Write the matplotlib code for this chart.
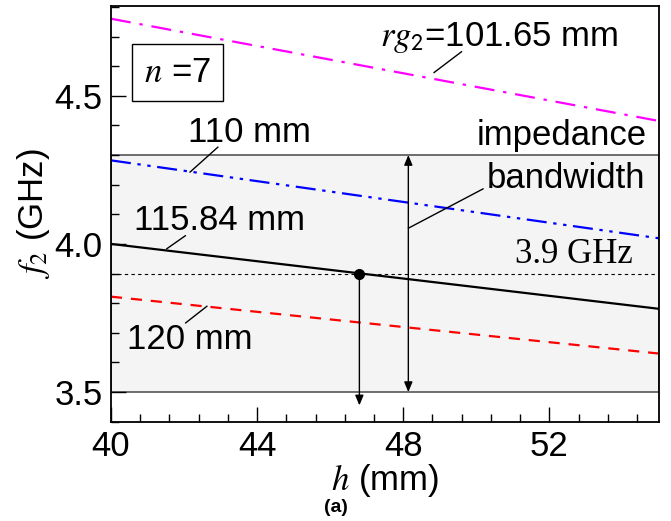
import matplotlib
matplotlib.use('Agg')
from matplotlib import pyplot as plt

# curves: resonant frequency f2 vs h for several rg2 values (linear, end points)
h = [40, 55]
f_101 = [4.76, 4.415]
f_110 = [4.282, 4.019]
f_115 = [4.0, 3.781]
f_120 = [3.822, 3.630]

band_lo, band_hi = 3.5, 4.3
f_target = 3.9
h_target = 46.8
h_band = 48.14

xticks = [40, 44, 48, 52]
yticks = [3.5, 4.0, 4.5]

plt.rcParams['font.family'] = ['Liberation Sans', 'DejaVu Sans']
plt.rcParams['mathtext.fontset'] = 'stix'

FS = 25


def leader(ax, p0, p1):
    ax.annotate('', xy=p1, xytext=p0,
                arrowprops=dict(arrowstyle='-', color='black', lw=1.0,
                                shrinkA=0, shrinkB=0))


def main():
    fig = plt.figure(figsize=(6.71, 5.21), dpi=100)
    ax = fig.add_axes([0.1654, 0.1906, 0.8166, 0.7979])

    ax.axhspan(band_lo, band_hi, facecolor='#f4f4f4', edgecolor='#555555', lw=1.2, zorder=0)
    ax.axhline(f_target, color='black', lw=0.8, ls=(0, (3, 3)), zorder=1)

    ax.plot(h, f_101, color='magenta', lw=1.6, ls=(0, (9, 4, 1.5, 4)))
    ax.plot(h, f_110, color='blue', lw=1.6, ls=(0, (9, 3, 1.5, 3, 1.5, 3)))
    ax.plot(h, f_115, color='black', lw=1.6, ls='-')
    ax.plot(h, f_120, color='red', lw=1.6, ls=(0, (5, 4)))

    ax.plot([h_target], [f_target], 'o', color='black', ms=7, zorder=5)
    ax.annotate('', xy=(h_target, 3.455), xytext=(h_target, f_target),
                arrowprops=dict(arrowstyle='-|>,head_length=0.6,head_width=0.25',
                                color='black', lw=1.0, shrinkA=0, shrinkB=0))
    ax.annotate('', xy=(h_band, band_lo), xytext=(h_band, band_hi),
                arrowprops=dict(arrowstyle='<|-|>,head_length=0.6,head_width=0.25',
                                color='black', lw=1.0, shrinkA=0, shrinkB=0))

    ax.text(47.36, 4.696, r'$rg_{\mathsf{2}}$=101.65 mm', fontsize=FS, va='center', ha='left')
    leader(ax, (49.6, 4.649), (48.84, 4.578))
    ax.text(43.8, 4.377, '110 mm', fontsize=FS, va='center', ha='center')
    leader(ax, (42.93, 4.327), (42.16, 4.242))
    ax.text(42.98, 4.079, '115.84 mm', fontsize=FS, va='center', ha='center')
    leader(ax, (42.04, 4.028), (41.52, 3.983))
    ax.text(40.43, 3.679, '120 mm', fontsize=FS, va='center', ha='left')
    leader(ax, (42.04, 3.733), (42.63, 3.79))
    ax.text(54.67, 4.367, 'impedance', fontsize=FS, va='center', ha='right')
    ax.text(54.62, 4.221, 'bandwidth', fontsize=FS, va='center', ha='right')
    leader(ax, (50.19, 4.186), (h_band, 4.053))
    ax.text(54.29, 3.963, '3.9 GHz', fontsize=FS, va='center', ha='right',
            family='Liberation Serif')
    ax.text(41.82, 4.578, r'$n$ =7', fontsize=FS, va='center', ha='center',
            bbox=dict(boxstyle='square,pad=0.35', facecolor='white', edgecolor='black', lw=1.0))

    ax.set_xlim(40, 55)
    ax.set_ylim(3.40, 4.803)
    ax.set_xticks(xticks)
    ax.set_yticks(yticks)
    ax.set_yticklabels(['3.5', '4.0', '4.5'])
    ax.set_xticks([40 + 0.8 * i for i in range(19)], minor=True)
    ax.set_yticks([3.4 + 0.1 * i for i in range(15)], minor=True)
    ax.tick_params(which='both', direction='in', top=False, right=False,
                   labelsize=FS, width=1.0)
    ax.tick_params(which='major', length=11, pad=6)
    ax.tick_params(which='minor', length=5.5)
    for s in ax.spines.values():
        s.set_linewidth(1.3)

    ax.set_xlabel(r'$h$ (mm)', fontsize=FS, labelpad=-1)
    ax.set_ylabel(r'$f_2$ (GHz)', fontsize=FS, labelpad=2)
    fig.text(0.50, 0.026, '(a)', fontsize=14, fontweight='bold', ha='center', va='center')

    fig.savefig('out.png', dpi=100)


if __name__ == '__main__':
    main()
